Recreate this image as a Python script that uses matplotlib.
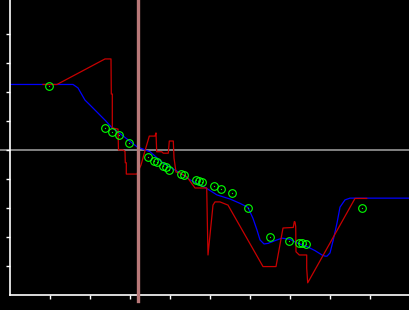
import matplotlib
matplotlib.use("Agg")
import matplotlib.pyplot as plt
import numpy as np

# blue (smooth) curve
blue_x = [0, 63, 68, 75, 80, 95, 102, 114, 127, 140, 153, 165, 170, 180, 196, 207, 220, 230,
          238, 243, 247, 250, 254, 258, 267, 272, 280, 288, 297, 305, 312, 315, 317, 320, 323,
          327, 330, 335, 340, 400]
blue_y = [2.26, 2.26, 2.14, 1.72, 1.55, 1.03, 0.77, 0.46, 0.11, -0.06, -0.45, -0.69, -0.79,
          -1.03, -1.31, -1.55, -1.69, -1.84, -1.98, -2.36, -2.76, -3.10, -3.24, -3.22, -3.10,
          -3.04, -3.08, -3.22, -3.33, -3.47, -3.62, -3.66, -3.66, -3.55, -3.14, -2.52, -1.97,
          -1.72, -1.66, -1.66]

# red (raw) curve
red_x = [33, 47, 95, 101, 101.3, 102.3, 102.3, 108, 108.5, 113, 115, 115.3, 116.3, 116.3, 127,
         127.5, 131, 134.3, 139.3, 145, 146, 146.7, 151.7, 153.3, 158.3, 159.3, 163.3, 164, 166,
         170, 177, 185, 196.7, 197.3, 198, 203, 205, 210, 218, 253, 266, 273, 283.3, 284.3, 285,
         285.7, 286, 289.3, 296.7, 296.7, 297.7, 345, 356.7]
red_y = [2.26, 2.26, 3.14, 3.14, 1.93, 1.93, 0.76, 0.72, 0.0, 0.0, -0.05, -0.44, -0.44, -0.83,
         -0.83, -0.78, -0.52, -0.11, 0.48, 0.48, 0.59, -0.06, -0.06, -0.11, -0.11, 0.31, 0.31,
         -0.28, -0.76, -0.79, -0.93, -1.31, -1.31, -2.41, -3.62, -1.90, -1.79, -1.79, -1.90,
         -4.02, -4.02, -2.69, -2.67, -2.47, -2.48, -2.64, -3.51, -3.62, -3.62, -4.08, -4.58,
         -1.67, -1.67]

# green sample points
pts_x = [39, 95, 102, 109, 119, 138, 144, 147, 153, 156, 159, 171, 174, 186, 189, 192, 204,
         211, 222, 238, 260, 279, 289, 292, 296, 352]
pts_y = [2.21, 0.76, 0.62, 0.52, 0.24, -0.24, -0.38, -0.41, -0.55, -0.59, -0.69, -0.83, -0.86,
         -1.03, -1.07, -1.10, -1.24, -1.34, -1.48, -2.00, -3.00, -3.14, -3.21, -3.21, -3.24, -2.00]

marker_x = 128.5

fig = plt.figure(figsize=(4.1, 3.1), dpi=100, facecolor="black")
ax = fig.add_axes([10 / 410, 15 / 310, 400 / 410, 295 / 310])
ax.set_facecolor("black")

ax.set_xlim(0, 400)
ax.set_ylim(-5, 150 / 29)

ax.axhline(0, xmin=-0.03, xmax=1, color="#989898", lw=1.2, zorder=1, clip_on=False)

ax.plot(blue_x, blue_y, color="#0000ff", lw=0.9, zorder=2)
ax.plot(red_x, red_y, color="#c80000", lw=0.9, zorder=3)
ax.plot(pts_x, pts_y, linestyle="none", marker="o", markersize=5.5, markerfacecolor="none",
        markeredgecolor="#00ff00", markeredgewidth=0.8, zorder=4)
ax.plot(pts_x, pts_y, linestyle="none", marker="s", markersize=0.8, color="#00ff00",
        markeredgewidth=0, zorder=4)

ax.axvline(marker_x, ymin=-0.02, ymax=1, color="#b87878", lw=2.4, zorder=5, clip_on=False)

for s in ["top", "right"]:
    ax.spines[s].set_visible(False)
for s in ["left", "bottom"]:
    ax.spines[s].set_color("white")
    ax.spines[s].set_linewidth(1.2)

ax.set_xticks(np.arange(40, 400, 40))
ax.set_yticks(np.arange(-4, 5, 1))
ax.tick_params(colors="white", length=3, width=1, labelbottom=False, labelleft=False)

fig.savefig("out.png", dpi=100, facecolor="black")
